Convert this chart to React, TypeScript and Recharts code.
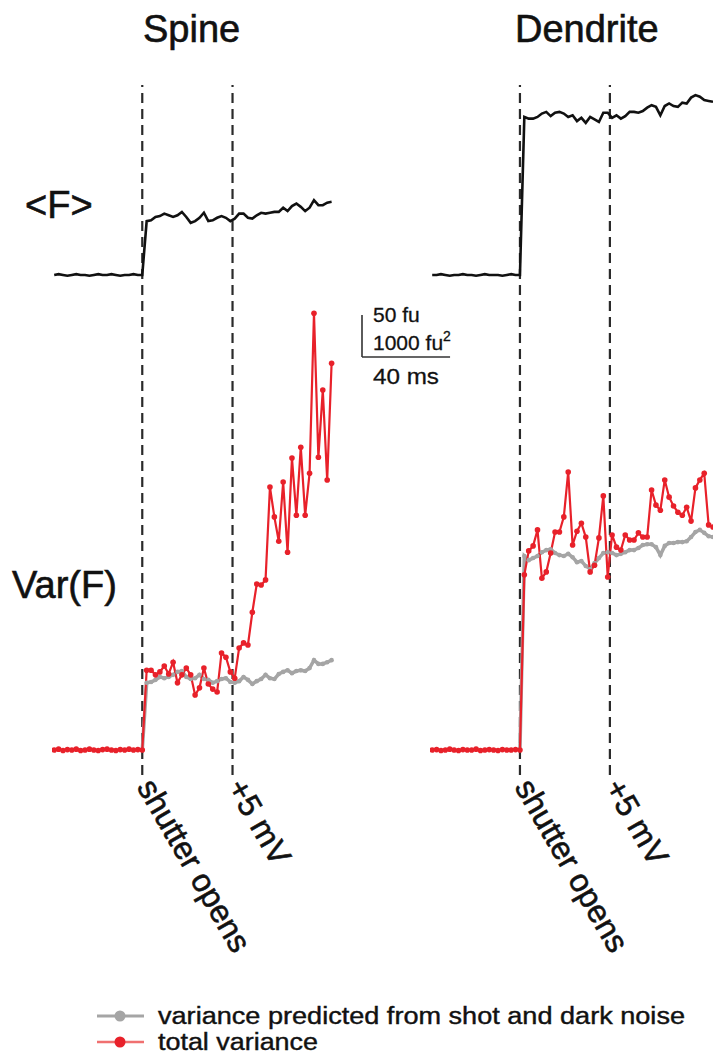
import React from 'react';
import { LineChart, Line, XAxis, YAxis, ReferenceLine } from 'recharts';

// ---------- time grid (ms) ----------
const T_START = -40;
const T_STEP = 2;
const SHUTTER_T = 0;
const STEP_T = 41; // "+5 mV"
const X_DOMAIN: [number, number] = [-41, 88];

// ---------- Spine ----------
const spineFBaseline = [0, 1, 0, -1, 0, 1, 0, 0, -1, 0, 1, 0, 0, 1, 0, -1, 0, 0, 1, 0, 0];
const spineFPost = [64, 65, 69, 70, 73, 71, 69, 71, 75, 69, 62, 64, 68, 74, 64, 65, 68, 70, 68, 64, 67, 73, 73, 68, 67, 71, 74, 73, 74, 75, 75, 80, 76, 82, 85, 81, 76, 80, 89, 83, 83, 86, 87];
const spineGrayPost = [1600, 1620, 1670, 1740, 1710, 1740, 1790, 1860, 1880, 1740, 1690, 1710, 1790, 1690, 1670, 1600, 1640, 1690, 1710, 1620, 1600, 1640, 1740, 1670, 1570, 1640, 1690, 1790, 1710, 1690, 1810, 1860, 1900, 1830, 1880, 1900, 1880, 1950, 2140, 2050, 2050, 2090, 2140];
const spineRedBaseline = [0, 20, -10, 10, 0, 20, -10, 0, 20, 0, -10, 10, 20, 0, -10, 10, 0, 20, 0, 10, 0];
const spineRedPost = [1900, 1900, 1790, 1860, 2000, 1810, 2090, 1600, 1790, 1950, 1790, 1310, 1480, 1950, 1570, 1450, 1380, 2310, 2210, 1860, 1710, 2430, 2550, 2500, 3280, 3950, 3930, 4050, 6260, 5550, 4970, 6380, 4710, 6950, 5590, 7210, 5590, 6590, 10400, 6970, 8570, 6430, 9210];

// ---------- Dendrite ----------
const dendFBaseline = [0, 0, 1, 0, -1, 0, 0, 1, 0, 0, -1, 0, 1, 0, 0, 0, -1, 0, 1, 0, 0];
const dendFPost = [188, 186, 186, 188, 192, 194, 189, 193, 194, 192, 188, 190, 183, 187, 181, 188, 185, 182, 193, 193, 187, 190, 186, 189, 194, 194, 193, 195, 199, 202, 200, 190, 201, 204, 201, 200, 205, 204, 211, 214, 212, 208, 207, 206];
const dendGrayPost = [4620, 4520, 4570, 4620, 4710, 4760, 4780, 4690, 4640, 4620, 4670, 4590, 4470, 4500, 4380, 4310, 4450, 4570, 4690, 4710, 4690, 4640, 4670, 4710, 4760, 4760, 4810, 4880, 4900, 4900, 4830, 4640, 4860, 4930, 4930, 4950, 4950, 4970, 5070, 5190, 5240, 5170, 5090, 5070];
const dendRedBaseline = [0, 10, -10, 0, 20, 0, -10, 10, 0, 0, 20, -10, 0, 10, 0, -10, 10, 0, 0, 10, 0];
const dendRedPost = [4170, 4740, 4860, 5240, 4090, 4240, 4690, 5190, 5190, 5550, 6620, 4880, 5210, 5400, 5070, 4240, 4400, 5050, 6050, 4120, 5120, 4830, 4760, 5120, 5000, 5000, 5170, 5070, 5070, 6190, 5830, 5710, 6430, 6020, 5810, 5660, 5590, 5780, 5450, 6240, 6430, 6590, 5360, 5310];

// ---------- labels ----------
const panelTitles = ['Spine', 'Dendrite'];
const eventLabels = ['shutter opens', '+5 mV'];
const rowLabels = ['<F>', 'Var(F)'];
const scaleLabels = ['50 fu', '1000 fu', '40 ms'];
const legendLabels = ['variance predicted from shot and dark noise', 'total variance'];

// scale bar values
const SCALE_F = 50; // fu
const SCALE_T = 40; // ms

// ---------- axes ----------
const F_DOMAIN: [number, number] = [-595, 226];
const VAR_DOMAIN: [number, number] = [-595, 15833];

const RED = '#e8212a';
const GRAY = '#a5a5a5';
const BLACK = '#111111';
const FONT = '"Liberation Sans", Arial, Helvetica, sans-serif';

const PLOT_TOP = 85;
const PLOT_BOTTOM = 775;
const H = 1057;

const heavy = { stroke: BLACK, strokeWidth: 0.6, paintOrder: 'stroke' as const };

const toSeries = (start: number, vals: number[]) =>
  vals.map((v, i) => ({ t: start + i * T_STEP, v }));

const rotLabel = (text: string) => (props: any) => {
  const vb = props.viewBox || {};
  const x = vb.x ?? 0;
  const y = (vb.y ?? 0) + (vb.height ?? 0);
  const bx = x - 6;
  const by = y + 12;
  return (
    <text
      x={bx}
      y={by}
      transform={`rotate(60 ${bx} ${by})`}
      fontSize={32}
      fontFamily={FONT}
      fill={BLACK}
      textAnchor="start"
      {...heavy}
    >
      {text}
    </text>
  );
};

interface PanelProps {
  left: number;
  width: number;
  mLeft: number;
  mRight: number;
  fData: { t: number; v: number }[];
  grayData: { t: number; v: number }[];
  redData: { t: number; v: number }[];
}

function Panel({ left, width, mLeft, mRight, fData, grayData, redData }: PanelProps) {
  return (
    <div style={{ position: 'absolute', left, top: 0 }}>
      <LineChart
        width={width}
        height={H}
        margin={{ top: PLOT_TOP, bottom: H - PLOT_BOTTOM, left: mLeft, right: mRight }}
      >
        <XAxis type="number" dataKey="t" domain={X_DOMAIN} allowDataOverflow hide />
        <YAxis yAxisId="f" type="number" domain={F_DOMAIN} allowDataOverflow hide />
        <YAxis yAxisId="v" type="number" domain={VAR_DOMAIN} allowDataOverflow hide />
        <ReferenceLine
          yAxisId="f"
          x={SHUTTER_T}
          stroke="#2a2a2a"
          strokeWidth={2.2}
          strokeDasharray="10 6"
          label={rotLabel(eventLabels[0])}
        />
        <ReferenceLine
          yAxisId="f"
          x={STEP_T}
          stroke="#2a2a2a"
          strokeWidth={2.2}
          strokeDasharray="10 6"
          label={rotLabel(eventLabels[1])}
        />
        <Line
          yAxisId="f"
          data={fData}
          dataKey="v"
          type="linear"
          stroke={BLACK}
          strokeWidth={2.6}
          dot={false}
          activeDot={false}
          isAnimationActive={false}
        />
        <Line
          yAxisId="v"
          data={grayData}
          dataKey="v"
          type="linear"
          stroke={GRAY}
          strokeWidth={3.5}
          dot={{ r: 2.3, fill: GRAY, stroke: GRAY, strokeWidth: 0 }}
          activeDot={false}
          isAnimationActive={false}
        />
        <Line
          yAxisId="v"
          data={redData}
          dataKey="v"
          type="linear"
          stroke={RED}
          strokeWidth={2.2}
          dot={{ r: 2.8, fill: RED, stroke: RED, strokeWidth: 0 }}
          activeDot={false}
          isAnimationActive={false}
        />
      </LineChart>
    </div>
  );
}

export default function App() {
  const spineF = toSeries(T_START, [...spineFBaseline, ...spineFPost]);
  const spineGray = toSeries(0, [0, ...spineGrayPost]);
  const spineRed = toSeries(T_START, [...spineRedBaseline, ...spineRedPost]);
  const dendF = toSeries(T_START, [...dendFBaseline, ...dendFPost]);
  const dendGray = toSeries(0, [0, ...dendGrayPost]);
  const dendRed = toSeries(T_START, [...dendRedBaseline, ...dendRedPost]);

  // scale bar geometry derived from the axis scale
  const pxPerMs = 284 / (X_DOMAIN[1] - X_DOMAIN[0]);
  const pxPerFu = (PLOT_BOTTOM - PLOT_TOP) / (F_DOMAIN[1] - F_DOMAIN[0]);
  const sbX = 362;
  const sbY = 357;
  const sbW = SCALE_T * pxPerMs;
  const sbH = SCALE_F * pxPerFu;

  return (
    <div
      style={{
        position: 'absolute',
        left: 0,
        top: 0,
        width: 713,
        height: H,
        background: '#fff',
        overflow: 'hidden',
      }}
    >
      <Panel left={0} width={340} mLeft={52} mRight={4} fData={spineF} grayData={spineGray} redData={spineRed} />
      <Panel left={380} width={333} mLeft={50} mRight={0} fData={dendF} grayData={dendGray} redData={dendRed} />
      <svg
        width={713}
        height={H}
        style={{ position: 'absolute', left: 0, top: 0, pointerEvents: 'none' }}
        fontFamily={FONT}
      >
        <text x={143} y={42} fontSize={38} fill={BLACK} {...heavy}>{panelTitles[0]}</text>
        <text x={515} y={42} fontSize={38} fill={BLACK} {...heavy}>{panelTitles[1]}</text>
        <text x={25} y={218} fontSize={38} fill={BLACK} {...heavy}>{rowLabels[0]}</text>
        <text x={12} y={598} fontSize={38} fill={BLACK} {...heavy}>{rowLabels[1]}</text>

        {/* scale bar */}
        <line x1={sbX} y1={sbY - sbH} x2={sbX} y2={sbY} stroke="#333" strokeWidth={1.6} />
        <line x1={sbX} y1={sbY} x2={sbX + sbW} y2={sbY} stroke="#333" strokeWidth={1.6} />
        <text x={373} y={322} fontSize={21} fill={BLACK} {...heavy} strokeWidth={0.3}>{scaleLabels[0]}</text>
        <text x={373} y={350} fontSize={21} fill={BLACK} {...heavy} strokeWidth={0.3}>
          {scaleLabels[1]}
          <tspan fontSize={14} dy={-9}>2</tspan>
        </text>
        <text x={373} y={384} fontSize={22} fill={BLACK} {...heavy} strokeWidth={0.3} textLength={66} lengthAdjust="spacingAndGlyphs">{scaleLabels[2]}</text>

        {/* legend */}
        <line x1={97} y1={1016} x2={144} y2={1016} stroke={GRAY} strokeWidth={3} />
        <circle cx={120} cy={1016} r={5.5} fill={GRAY} />
        <text x={158} y={1024} fontSize={23} fill={BLACK} {...heavy} strokeWidth={0.4} textLength={527} lengthAdjust="spacingAndGlyphs">{legendLabels[0]}</text>
        <line x1={97} y1={1042} x2={144} y2={1042} stroke="#f07070" strokeWidth={2.5} />
        <circle cx={120} cy={1042} r={5.5} fill={RED} />
        <text x={158} y={1050} fontSize={23} fill={BLACK} {...heavy} strokeWidth={0.4} textLength={160} lengthAdjust="spacingAndGlyphs">{legendLabels[1]}</text>
      </svg>
    </div>
  );
}
